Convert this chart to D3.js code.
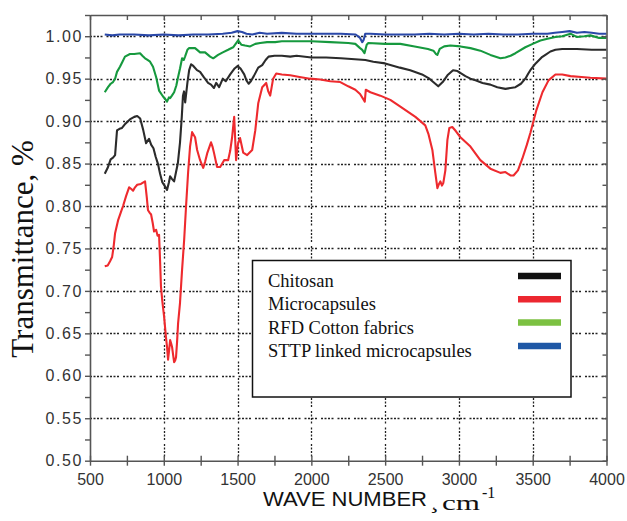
<!DOCTYPE html>
<html>
<head>
<meta charset="utf-8">
<script src="https://cdn.jsdelivr.net/npm/d3@7"></script>
<style>
  body { margin: 0; background: #fff; }
  svg { display: block; }
</style>
</head>
<body>
<div id="chart"></div>
<script>
// series: [wave number, transmittance]
const chitosan = [[600,0.838],[620,0.845],[640,0.855],[656,0.857],[670,0.86],[683,0.889],[700,0.891],[717,0.892],[740,0.897],[770,0.902],[800,0.905],[820,0.906],[840,0.903],[860,0.89],[880,0.874],[900,0.879],[915,0.872],[930,0.868],[945,0.858],[960,0.85],[975,0.838],[990,0.828],[1005,0.824],[1022,0.819],[1035,0.828],[1043,0.835],[1055,0.832],[1070,0.829],[1083,0.84],[1095,0.85],[1110,0.875],[1122,0.905],[1130,0.93],[1137,0.935],[1145,0.922],[1160,0.945],[1172,0.96],[1185,0.967],[1200,0.965],[1225,0.96],[1246,0.958],[1270,0.952],[1300,0.945],[1320,0.943],[1340,0.939],[1355,0.945],[1375,0.94],[1400,0.95],[1420,0.947],[1450,0.955],[1480,0.962],[1500,0.965],[1520,0.962],[1545,0.955],[1560,0.948],[1575,0.944],[1590,0.947],[1610,0.953],[1640,0.963],[1667,0.966],[1690,0.972],[1710,0.976],[1750,0.977],[1800,0.977],[1857,0.976],[1900,0.977],[2000,0.975],[2100,0.975],[2200,0.974],[2366,0.972],[2420,0.97],[2500,0.968],[2600,0.963],[2670,0.96],[2750,0.955],[2800,0.95],[2840,0.944],[2860,0.941],[2890,0.946],[2922,0.954],[2960,0.96],[2990,0.959],[3044,0.953],[3078,0.95],[3112,0.948],[3160,0.945],[3213,0.943],[3260,0.94],[3315,0.938],[3350,0.939],[3383,0.94],[3420,0.944],[3450,0.95],[3470,0.956],[3484,0.96],[3520,0.968],[3560,0.975],[3586,0.978],[3620,0.982],[3654,0.984],[3700,0.985],[3800,0.985],[3900,0.984],[4000,0.984]];

const microcapsules = [[600,0.729],[620,0.73],[636,0.735],[650,0.74],[660,0.752],[670,0.768],[690,0.783],[710,0.793],[724,0.8],[745,0.812],[765,0.822],[780,0.82],[792,0.818],[805,0.822],[820,0.825],[845,0.826],[873,0.829],[885,0.81],[893,0.795],[905,0.792],[914,0.79],[925,0.78],[934,0.77],[948,0.772],[958,0.765],[968,0.766],[975,0.735],[981,0.705],[990,0.688],[1002,0.67],[1015,0.645],[1022,0.634],[1029,0.619],[1036,0.63],[1043,0.642],[1050,0.638],[1056,0.634],[1063,0.625],[1070,0.616],[1077,0.618],[1083,0.622],[1090,0.64],[1097,0.662],[1110,0.686],[1124,0.725],[1138,0.76],[1151,0.8],[1165,0.84],[1178,0.87],[1192,0.887],[1212,0.881],[1226,0.866],[1246,0.854],[1267,0.845],[1280,0.852],[1294,0.862],[1320,0.875],[1330,0.87],[1341,0.862],[1361,0.846],[1382,0.846],[1409,0.854],[1436,0.854],[1450,0.865],[1463,0.881],[1477,0.905],[1484,0.878],[1490,0.854],[1497,0.865],[1504,0.874],[1517,0.88],[1538,0.863],[1565,0.86],[1599,0.866],[1620,0.889],[1640,0.921],[1667,0.94],[1694,0.945],[1708,0.935],[1721,0.93],[1741,0.95],[1762,0.956],[1800,0.955],[1857,0.954],[1920,0.952],[1990,0.95],[2060,0.949],[2128,0.947],[2196,0.946],[2250,0.941],[2298,0.937],[2330,0.932],[2355,0.925],[2362,0.923],[2369,0.937],[2400,0.934],[2467,0.93],[2535,0.925],[2603,0.917],[2705,0.905],[2772,0.895],[2793,0.885],[2820,0.866],[2840,0.839],[2854,0.821],[2865,0.826],[2874,0.829],[2885,0.824],[2894,0.827],[2908,0.842],[2922,0.878],[2935,0.892],[2955,0.893],[2980,0.888],[3010,0.881],[3078,0.87],[3145,0.854],[3213,0.844],[3281,0.839],[3315,0.84],[3349,0.836],[3370,0.836],[3400,0.842],[3430,0.856],[3460,0.872],[3484,0.886],[3525,0.913],[3566,0.934],[3607,0.948],[3654,0.955],[3700,0.955],[3756,0.953],[3830,0.952],[3891,0.951],[4000,0.95]];

const rfdCotton = [[600,0.934],[622,0.94],[640,0.944],[656,0.946],[670,0.95],[683,0.958],[703,0.964],[720,0.97],[737,0.976],[771,0.979],[800,0.979],[839,0.98],[855,0.977],[873,0.974],[890,0.972],[907,0.97],[927,0.964],[948,0.952],[968,0.936],[995,0.929],[1010,0.926],[1022,0.923],[1035,0.928],[1043,0.927],[1055,0.93],[1070,0.934],[1085,0.942],[1097,0.952],[1110,0.962],[1124,0.974],[1135,0.972],[1144,0.976],[1160,0.984],[1172,0.986],[1212,0.986],[1246,0.981],[1280,0.981],[1314,0.976],[1335,0.974],[1368,0.978],[1400,0.981],[1436,0.984],[1470,0.987],[1504,0.995],[1525,0.99],[1551,0.989],[1585,0.988],[1620,0.991],[1653,0.992],[1700,0.993],[1755,0.993],[1800,0.994],[1900,0.994],[2000,0.994],[2128,0.993],[2250,0.992],[2298,0.991],[2330,0.986],[2345,0.984],[2360,0.98],[2375,0.99],[2386,0.992],[2500,0.991],[2603,0.991],[2700,0.988],[2790,0.985],[2827,0.983],[2845,0.979],[2854,0.978],[2870,0.985],[2900,0.988],[2942,0.989],[3010,0.988],[3078,0.986],[3145,0.983],[3213,0.978],[3281,0.974],[3315,0.975],[3350,0.977],[3383,0.98],[3450,0.987],[3500,0.991],[3552,0.995],[3600,0.997],[3654,0.999],[3700,1.0],[3756,1.003],[3800,0.999],[3850,1.0],[3891,1.001],[3950,0.998],[4000,0.998]];

const sttpLinked = [[600,1.002],[650,1.001],[700,1.002],[800,1.002],[900,1.001],[1000,1.002],[1100,1.001],[1200,1.002],[1300,1.002],[1400,1.003],[1460,1.004],[1500,1.006],[1530,1.005],[1560,1.003],[1600,1.002],[1650,1.004],[1700,1.003],[1800,1.004],[1900,1.003],[2000,1.003],[2100,1.003],[2200,1.003],[2300,1.002],[2330,0.998],[2345,0.993],[2355,0.996],[2365,1.003],[2400,1.003],[2500,1.002],[2600,1.002],[2700,1.002],[2800,1.003],[2900,1.002],[3000,1.003],[3100,1.002],[3200,1.003],[3300,1.002],[3400,1.002],[3500,1.003],[3600,1.003],[3650,1.004],[3700,1.005],[3750,1.006],[3800,1.004],[3850,1.005],[3900,1.004],[3950,1.003],[4000,1.003]];

const seriesNames = ['Chitosan', 'Microcapsules', 'RFD Cotton fabrics', 'STTP linked microcapsules'];
const lineColors = ['#2b2b2b', '#ee2a2e', '#16993e', '#2a48a8'];
const swatchColors = ['#111111', '#ec2730', '#7cc142', '#1f58a6'];

const xTicks = [500, 1000, 1500, 2000, 2500, 3000, 3500, 4000];
const yTicks = [0.50, 0.55, 0.60, 0.65, 0.70, 0.75, 0.80, 0.85, 0.90, 0.95, 1.00];

function buildSpectra(parentID) {
	const W = 627, H = 521;
	const plot = {left: 90, right: 606.5, top: 15, bottom: 460.7};

	const svg = d3.select(parentID).append('svg')
		.attr('width', W)
		.attr('height', H);

	const x = d3.scaleLinear().domain([500, 4000]).range([plot.left, plot.right]);
	const y = d3.scaleLinear().domain([0.5, 1.025]).range([plot.bottom, plot.top]);

	// dotted grid, snapped to whole pixels so the dots stay crisp
	const snap = v => Math.round(v) + 0.5;
	const grid = svg.append('g').attr('class', 'grid')
		.attr('stroke', '#222').attr('stroke-width', 1.3)
		.attr('stroke-dasharray', '2,1.5,2,1.5,2,1.5,2,4');
	grid.selectAll('.hg').data(yTicks.slice(1)).enter().append('line')
		.attr('x1', plot.left).attr('x2', plot.right)
		.attr('y1', d => snap(y(d))).attr('y2', d => snap(y(d)));
	grid.selectAll('.vg').data(xTicks.slice(1, -1)).enter().append('line')
		.attr('x1', d => snap(x(d))).attr('x2', d => snap(x(d)))
		.attr('y1', plot.top).attr('y2', plot.bottom);

	// spectra
	const line = d3.line().x(d => x(d[0])).y(d => y(d[1]));
	const all = [chitosan, microcapsules, rfdCotton, sttpLinked];
	svg.append('g').selectAll('path').data(all).enter().append('path')
		.attr('d', line)
		.attr('fill', 'none')
		.attr('stroke', (d, i) => lineColors[i])
		.attr('stroke-width', 2.1)
		.attr('stroke-linejoin', 'round');

	// axes
	const axisColor = '#555';
	const minorX = d3.range(500, 4001, 250);
	const minorY = d3.range(0.5, 1.026, 0.025);

	const xAxis = svg.append('g').attr('transform', `translate(0,${plot.bottom})`)
		.call(d3.axisBottom(x).tickValues(minorX).tickSizeInner(5).tickSizeOuter(0)
			.tickFormat(d => xTicks.includes(d) ? d : ''));
	xAxis.selectAll('.tick line').attr('y1', -5).attr('y2', 5);
	xAxis.selectAll('.tick text').attr('dy', '1.05em');

	const yAxis = svg.append('g').attr('transform', `translate(${plot.left},0)`)
		.call(d3.axisLeft(y).tickValues(minorY).tickSizeInner(5).tickSizeOuter(0)
			.tickFormat(d => Math.abs(d * 20 - Math.round(d * 20)) < 1e-6 ? d3.format('.2f')(d) : ''));
	yAxis.selectAll('.tick text').attr('x', -7).attr('letter-spacing', '1.6px');

	const topAxis = svg.append('g').attr('transform', `translate(0,${plot.top})`)
		.call(d3.axisBottom(x).tickValues(minorX).tickSizeInner(5).tickSizeOuter(0).tickFormat(''));
	const rightAxis = svg.append('g').attr('transform', `translate(${plot.right},0)`)
		.call(d3.axisLeft(y).tickValues(minorY).tickSizeInner(4).tickSizeOuter(0).tickFormat(''));

	[xAxis, yAxis, topAxis, rightAxis].forEach(a => {
		a.select('.domain').attr('stroke', axisColor).attr('stroke-width', 1.6);
		a.selectAll('.tick line').attr('stroke', axisColor).attr('stroke-width', 1.4);
		a.selectAll('.tick text')
			.attr('font-family', 'Liberation Sans, Arial, sans-serif')
			.attr('font-size', 16)
			.attr('fill', '#333');
	});

	// legend
	const lg = svg.append('g').attr('class', 'legend');
	lg.append('rect')
		.attr('x', 252.5).attr('y', 260.5).attr('width', 318.5).attr('height', 136.5)
		.attr('fill', '#fff').attr('stroke', '#111').attr('stroke-width', 1.5);
	const rows = lg.selectAll('.row').data(seriesNames).enter().append('g')
		.attr('transform', (d, i) => `translate(0,${287 + i * 23.3})`);
	rows.append('text')
		.attr('x', 268).attr('y', 0)
		.attr('font-family', 'Liberation Serif, Times New Roman, serif')
		.attr('font-size', 18.5)
		.attr('fill', '#111')
		.text(d => d);
	rows.append('line')
		.attr('x1', 518).attr('x2', 561)
		.attr('y1', -11).attr('y2', -11)
		.attr('stroke', (d, i) => swatchColors[i])
		.attr('stroke-width', 6.5);

	// axis titles
	svg.append('text')
		.attr('transform', 'translate(33,249) rotate(-90)')
		.attr('text-anchor', 'middle')
		.attr('font-family', 'Liberation Serif, Times New Roman, serif')
		.attr('font-size', 31)
		.attr('fill', '#111')
		.text('Transmittance, %');

	svg.append('text')
		.attr('x', 263).attr('y', 506)
		.attr('font-family', 'Liberation Sans, Arial, sans-serif')
		.attr('font-size', 20)
		.attr('textLength', 164)
		.attr('lengthAdjust', 'spacingAndGlyphs')
		.attr('fill', '#111')
		.text('WAVE NUMBER');
	svg.append('text')
		.attr('x', 430).attr('y', 508)
		.attr('font-family', 'Liberation Serif, Times New Roman, serif')
		.attr('font-size', 26)
		.attr('fill', '#111')
		.text('¸');
	svg.append('text')
		.attr('x', 442).attr('y', 510)
		.attr('font-family', 'Liberation Serif, Times New Roman, serif')
		.attr('font-size', 22)
		.attr('textLength', 38)
		.attr('lengthAdjust', 'spacingAndGlyphs')
		.attr('fill', '#111')
		.text('cm');
	svg.append('text')
		.attr('x', 482).attr('y', 498)
		.attr('font-family', 'Liberation Serif, Times New Roman, serif')
		.attr('font-size', 16)
		.attr('fill', '#111')
		.text('-1');
}

buildSpectra('#chart');
</script>
</body>
</html>
